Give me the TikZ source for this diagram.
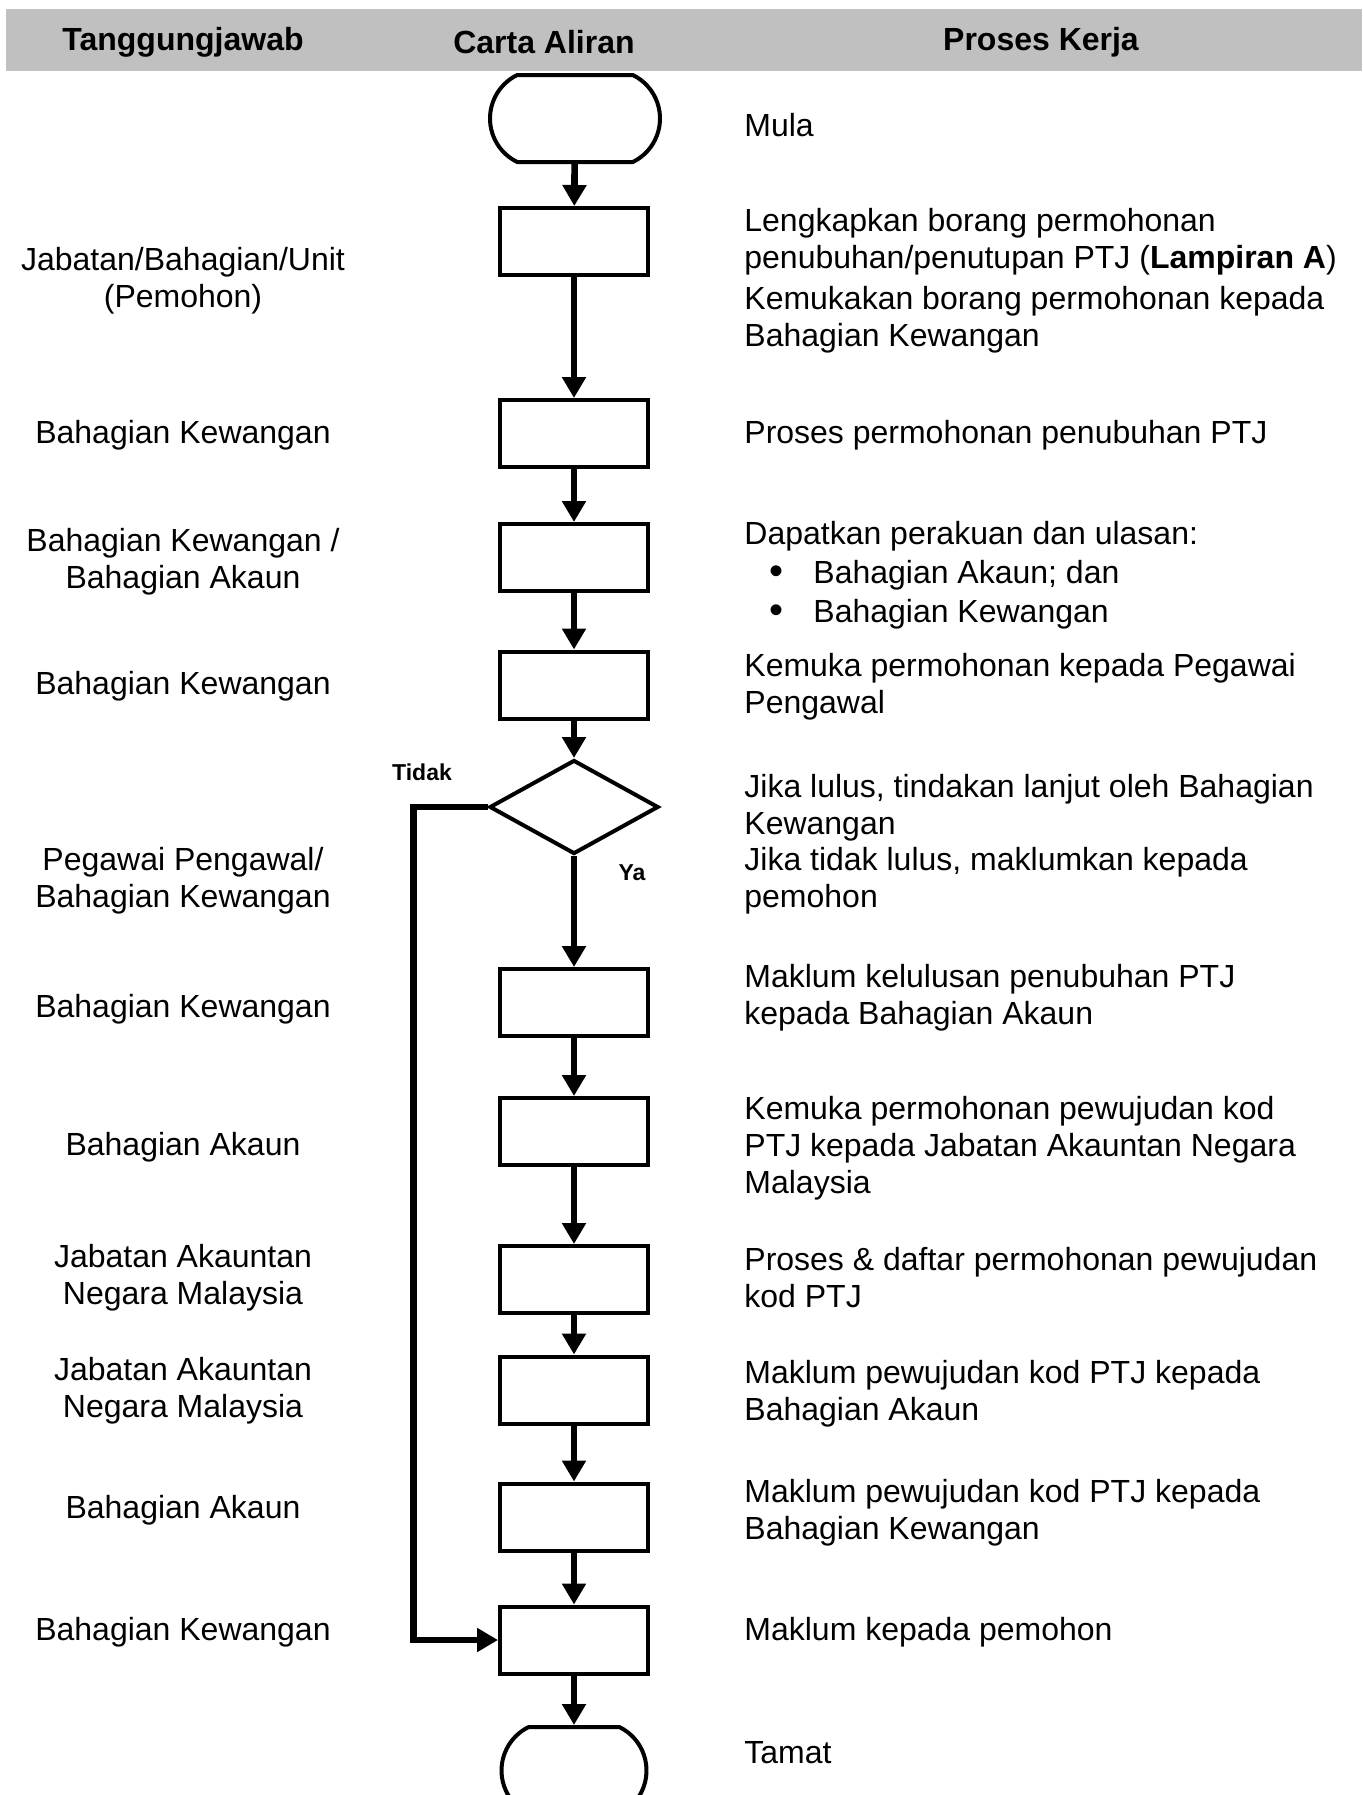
\documentclass[tikz,border=0pt]{standalone}
\usepackage{fontspec}
\setmainfont{Liberation Sans}
\usetikzlibrary{arrows.meta,shapes.geometric,shapes.misc}

\definecolor{headgray}{RGB}{192,192,192}

\begin{document}
\begin{tikzpicture}[x=0.5pt, y=-0.5pt,
	txt/.style={font=\fontsize{16}{18.5}\selectfont, inner sep=0pt},
	role/.style={txt, align=center},
	work/.style={txt, align=left, anchor=west},
	dot/.style={font=\fontsize{20}{20}\selectfont, inner sep=0pt},
	head/.style={font=\fontsize{16}{18.5}\selectfont\bfseries, inner sep=0pt},
	answer/.style={font=\fontsize{11.5}{13}\selectfont\bfseries, inner sep=0pt},
	box/.style={draw, line width=2pt, minimum width=74pt, minimum height=33.5pt, inner sep=0pt},
	term/.style={draw, line width=2pt, rounded rectangle, rounded rectangle arc length=128, minimum width=85pt, minimum height=43.5pt, inner sep=0pt},
	decision/.style={draw, line width=2pt, diamond, minimum width=84.5pt, minimum height=47pt, inner sep=0pt},
	flow/.style={line width=3.3pt, -{Triangle[length=10.5pt, width=11.5pt]}}
]

	\useasboundingbox (0, 0) rectangle (1362, 1795);

	\fill[headgray] (6, 9) rectangle (1362, 71);
	\node[head] (h1) at (183, 42) {Tanggungjawab};
	\node[head] (h2) at (544, 42) {Carta Aliran};
	\node[head] (h3) at (1041, 42) {Proses Kerja};

	\node[term] (start) at (575, 118.5) {};
	\node[box] (b1) at (574, 241.5) {};
	\node[box] (b2) at (574, 433.5) {};
	\node[box] (b3) at (574, 557.5) {};
	\node[box] (b4) at (574, 685) {};
	\node[decision] (dec) at (574, 807) {};
	\node[box] (b5) at (574, 1002.5) {};
	\node[box] (b6) at (574, 1131.5) {};
	\node[box] (b7) at (574, 1279.5) {};
	\node[box] (b8) at (574, 1390) {};
	\node[box] (b9) at (574, 1517) {};
	\node[box] (b10) at (574, 1640) {};
	\node[term, minimum width=72.5pt] (stop) at (574, 1770.5) {};

	\draw[flow] (start) -- (b1);
	\draw[flow] (b1) -- (b2);
	\draw[flow] (b2) -- (b3);
	\draw[flow] (b3) -- (b4);
	\draw[flow] (b4.south) -- (dec.north);
	\draw[flow] (dec.south) -- (b5.north);
	\draw[flow] (b5) -- (b6);
	\draw[flow] (b6) -- (b7);
	\draw[flow] (b7) -- (b8);
	\draw[flow] (b8) -- (b9);
	\draw[flow] (b9) -- (b10);
	\draw[flow] (b10) -- (stop);
	\draw[flow] (dec.west) -- ++(-74, 0) |- (b10.west);

	\node[answer] (no) at (422, 772) {Tidak};
	\node[answer] (yes) at (632, 873) {Ya};

	\node[role] (r1) at (183, 281) {Jabatan/Bahagian/Unit\\(Pemohon)};
	\node[role] (r2) at (183, 435) {Bahagian Kewangan};
	\node[role] (r3) at (183, 562) {Bahagian Kewangan /\\Bahagian Akaun};
	\node[role] (r4) at (183, 686) {Bahagian Kewangan};
	\node[role] (r5) at (183, 881) {Pegawai Pengawal/\\Bahagian Kewangan};
	\node[role] (r6) at (183, 1009) {Bahagian Kewangan};
	\node[role] (r7) at (183, 1147) {Bahagian Akaun};
	\node[role] (r8) at (183, 1278) {Jabatan Akauntan\\Negara Malaysia};
	\node[role] (r9) at (183, 1391) {Jabatan Akauntan\\Negara Malaysia};
	\node[role] (r10) at (183, 1510) {Bahagian Akaun};
	\node[role] (r11) at (183, 1632) {Bahagian Kewangan};

	\node[work] (w1) at (744, 125) {Mula};
	\node[work] (w2) at (744, 241.5) {Lengkapkan borang permohonan\\penubuhan/penutupan PTJ (\textbf{Lampiran A})};
	\node[work] (w3) at (744, 320) {Kemukakan borang permohonan kepada\\Bahagian Kewangan};
	\node[work] (w4) at (744, 435) {Proses permohonan penubuhan PTJ};
	\node[work] (w5) at (744, 536) {Dapatkan perakuan dan ulasan:};
	\node[dot] (d1) at (776, 575) {\textbullet};
	\node[work] (w6) at (813, 575) {Bahagian Akaun; dan};
	\node[dot] (d2) at (776, 614) {\textbullet};
	\node[work] (w7) at (813, 614) {Bahagian Kewangan};
	\node[work] (w8) at (744, 686.5) {Kemuka permohonan kepada Pegawai\\Pengawal};
	\node[work] (w9) at (744, 807.5) {Jika lulus, tindakan lanjut oleh Bahagian\\Kewangan};
	\node[work] (w10) at (744, 881) {Jika tidak lulus, maklumkan kepada\\pemohon};
	\node[work] (w11) at (744, 997.5) {Maklum kelulusan penubuhan PTJ\\kepada Bahagian Akaun};
	\node[work] (w12) at (744, 1148) {Kemuka permohonan pewujudan kod\\PTJ kepada Jabatan Akauntan Negara\\Malaysia};
	\node[work] (w13) at (744, 1278) {Proses \& daftar permohonan pewujudan\\kod PTJ};
	\node[work] (w14) at (744, 1393.5) {Maklum pewujudan kod PTJ kepada\\Bahagian Akaun};
	\node[work] (w15) at (744, 1512.5) {Maklum pewujudan kod PTJ kepada\\Bahagian Kewangan};
	\node[work] (w16) at (744, 1632) {Maklum kepada pemohon};
	\node[work] (w17) at (744, 1753) {Tamat};

\end{tikzpicture}
\end{document}
